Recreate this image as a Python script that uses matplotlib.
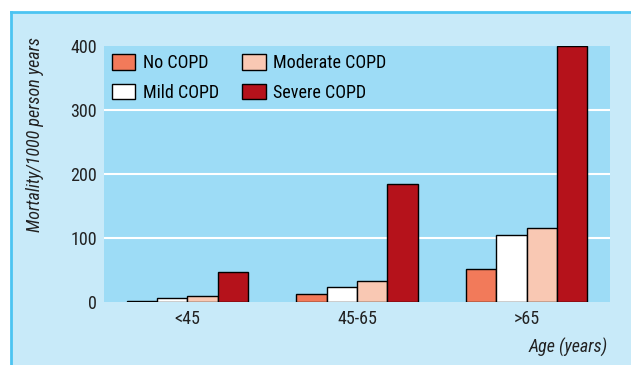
import matplotlib.pyplot as plt
import numpy as np
from matplotlib.patches import Rectangle
from matplotlib.lines import Line2D

plt.rcParams['font.family'] = ['Roboto Condensed', 'Liberation Sans', 'DejaVu Sans']

groups = ['<45', '45-65', '>65']
series = ['No COPD', 'Mild COPD', 'Moderate COPD', 'Severe COPD']
values = {
    'No COPD': [1, 12, 52],
    'Mild COPD': [6, 24, 104],
    'Moderate COPD': [9, 33, 115],
    'Severe COPD': [47, 185, 400],
}
colors = ['#f27a5a', '#ffffff', '#f9c8b3', '#b5121b']
yticks = [0, 100, 200, 300, 400]

W, H = 631, 365
fig = plt.figure(figsize=(W / 100, H / 100), dpi=100)
fig.patch.set_facecolor('white')

# light blue panel with border on left/top
fig.patches.append(Rectangle((11 / W, 0), 1, 1 - 12 / H, transform=fig.transFigure,
                             facecolor='#c8eaf9', edgecolor='none', zorder=-10))
fig.lines.append(Line2D([11 / W, 11 / W], [0, 1 - 12 / H], transform=fig.transFigure,
                        color='#4cc4f2', lw=2))
fig.lines.append(Line2D([11 / W, 1], [1 - 12 / H, 1 - 12 / H], transform=fig.transFigure,
                        color='#4cc4f2', lw=2))

ax = fig.add_axes([104 / W, 1 - 302 / H, (610 - 104) / W, (302 - 46) / H])
ax.set_facecolor('#9ddcf6')

x = np.arange(len(groups))
bw = 0.1785
for i, s in enumerate(series):
    ax.bar(x + (i - 1.5) * bw, values[s], bw, color=colors[i], edgecolor='black',
           linewidth=1, label=s, zorder=3)

ax.set_ylim(0, 400)
ax.set_xlim(-0.49, 2.49)
ax.set_yticks(yticks)
ax.set_xticks(x)
ax.set_xticklabels(groups)
ax.tick_params(length=0, labelsize=13, colors='#222222')
ax.tick_params(axis='y', pad=5)
ax.tick_params(axis='x', pad=6)
for sp in ax.spines.values():
    sp.set_visible(False)
for v in yticks[1:-1]:
    ax.axhline(v, color='white', lw=1.5, zorder=1)

ax.legend(loc='upper left', ncol=2, frameon=False, fontsize=13,
          handlelength=1.3, handleheight=0.95, handletextpad=0.4, columnspacing=1.3,
          labelspacing=0.65, borderpad=0, borderaxespad=0,
          bbox_to_anchor=((112 - 104) / 506, (302 - 54) / 256))

fig.text(35 / W, 1 - 135 / H, 'Mortality/1000 person years', rotation=90,
         ha='center', va='center', style='italic', fontsize=13, color='#222222')
fig.text(608 / W, 1 - 347 / H, 'Age (years)', ha='right', va='center',
         style='italic', fontsize=13, color='#222222')

fig.savefig('out.png', dpi=100)
